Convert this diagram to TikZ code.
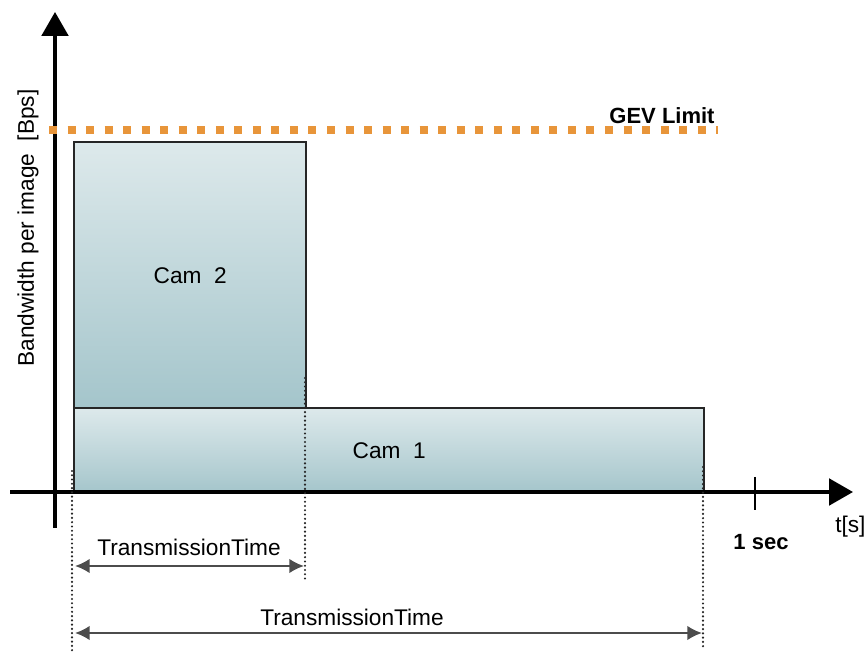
\documentclass[tikz,border=0pt]{standalone}
\usepackage{fontspec}
\setmainfont{Liberation Sans}
\definecolor{camtop}{HTML}{DDE9EB}
\definecolor{cambot}{HTML}{A4C5CB}
\definecolor{gevline}{HTML}{E8953A}
\definecolor{boxedge}{HTML}{262626}
\usetikzlibrary{arrows.meta,positioning,calc}
\tikzset{
  cam/.style     = {draw=boxedge,line width=1.8pt,top color=camtop,
                     bottom color=cambot,anchor=north west,inner sep=0pt},
  axis/.style    = {-{Triangle[length=18pt,width=20pt]},line width=2.4pt},
  limit/.style   = {gevline,line width=6pt,dash pattern=on 6pt off 7.9pt},
  guide/.style   = {line width=1.8pt,line cap=round,dash pattern=on 0pt off 3.2pt,
                     draw=black!85},
  dimarr/.style  = {{Latex[length=11pt,width=11pt]}-{Latex[length=11pt,width=11pt]},
                     line width=1.7pt,draw=black!70},
  lbl/.style     = {font=\fontsize{17}{20}\selectfont,inner sep=0pt},
  blbl/.style    = {font=\fontsize{16.5}{20}\selectfont\bfseries,inner sep=0pt},
}
\begin{document}
\begin{tikzpicture}[x=0.75pt,y=-0.75pt]
  \useasboundingbox (0,0) rectangle (865,652);

  % Camera blocks
  \node[cam,minimum width=174pt,minimum height=199.5pt,lbl] (cam2) at (73,141)
        {Cam\ \ 2};
  \node[cam,minimum width=472.5pt,minimum height=63.75pt,lbl] (cam1) at (73,407)
        {Cam\ \ 1};

  % Axes
  \coordinate (xstart) at (10,492);
  \coordinate (xend) at (853,492);
  \coordinate (ystart) at (55,528);
  \coordinate (yend) at (55,12);
  \draw[axis] (xstart) -- (xend);
  \draw[axis] (ystart) -- (yend);
  \node[lbl,rotate=90] (ylbl) at (28,228) {Bandwidth per image\ \ [Bps]};
  \node[lbl,anchor=west] (tlbl) at (835,527) {t[s]};

  % one second tick
  \coordinate (tickup) at (755,477);
  \coordinate (tickdn) at (755,510);
  \draw[line width=2.2pt] (tickup) -- (tickdn);
  \node[blbl] (onesec) at (761,542) {1 sec};

  % GEV limit
  \coordinate (gevl) at (49,130);
  \coordinate (gevr) at (718,130);
  \draw[limit] (gevl) -- (gevr);
  \node[blbl] (gev) at (662,116) {GEV Limit};

  % Guides down from the block edges
  \coordinate (g0top) at (72,471);
  \coordinate (g0bot) at (72,652);
  \coordinate (g1top) at (305,378);
  \coordinate (g1bot) at (305,581);
  \coordinate (g2top) at (703,467);
  \coordinate (g2bot) at (703,648);
  \draw[guide] (g0top) -- (g0bot);
  \draw[guide] (g1top) -- (g1bot);
  \draw[guide] (g2top) -- (g2bot);

  % Transmission times
  \coordinate (t1l) at (75,566);
  \coordinate (t1r) at (304,566);
  \coordinate (t2l) at (75,633);
  \coordinate (t2r) at (702,633);
  \draw[dimarr] (t1l) -- (t1r);
  \draw[dimarr] (t2l) -- (t2r);
  \node[lbl] (tt1) at (189,547) {TransmissionTime};
  \node[lbl] (tt2) at (352,617) {TransmissionTime};
\end{tikzpicture}
\end{document}
